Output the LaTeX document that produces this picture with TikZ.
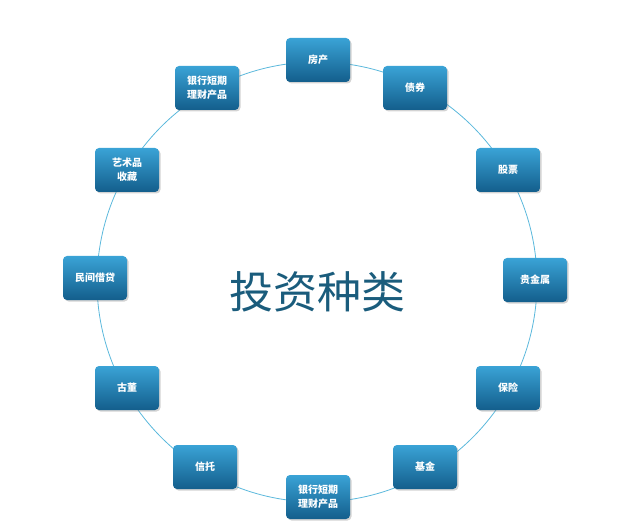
\documentclass[tikz,border=0pt]{standalone}
\usepackage{fontspec}
\newfontfamily\cjk{Noto Sans CJK SC}
\newfontfamily\cjkmed{Noto Sans CJK SC Medium}
\usetikzlibrary{shadows}
\definecolor{boxtop}{HTML}{3AA3D6}
\definecolor{boxbot}{HTML}{135E8C}
\definecolor{ringcol}{HTML}{5BB8DC}
\definecolor{titlecol}{HTML}{1A5C7C}
\tikzset{
  kind/.style={rounded corners=4pt, top color=boxtop, bottom color=boxbot,
    draw=none, minimum width=64pt, minimum height=44pt, align=center,
    text=white, font=\cjk\bfseries\fontsize{10}{14}\selectfont,
    drop shadow={shadow xshift=1.5pt, shadow yshift=-1.5pt, opacity=0.35}}
}
\begin{document}
\begin{tikzpicture}[x=1pt,y=-1pt]
\useasboundingbox (0,0) rectangle (631,526);
\draw[ringcol, line width=0.8pt] (317,282) circle (220);

\node[kind] (house) at (318,60) {房产};
\node[kind] (bond) at (415,88) {债券};
\node[kind] (stock) at (508,170) {股票};
\node[kind] (metal) at (535,280) {贵金属};
\node[kind] (insure) at (508,388) {保险};
\node[kind] (fund) at (425,467) {基金};
\node[kind] (bankb) at (318,497) {银行短期\\理财产品};
\node[kind] (trust) at (205,467) {信托};
\node[kind] (antique) at (127,388) {古董};
\node[kind] (loan) at (95,278) {民间借贷};
\node[kind] (art) at (127,170) {艺术品\\收藏};
\node[kind] (bankt) at (207,88) {银行短期\\理财产品};

\node[text=titlecol, font=\cjk\fontsize{44}{50}\selectfont] (title) at (317,292) {投资种类};
\end{tikzpicture}
\end{document}
